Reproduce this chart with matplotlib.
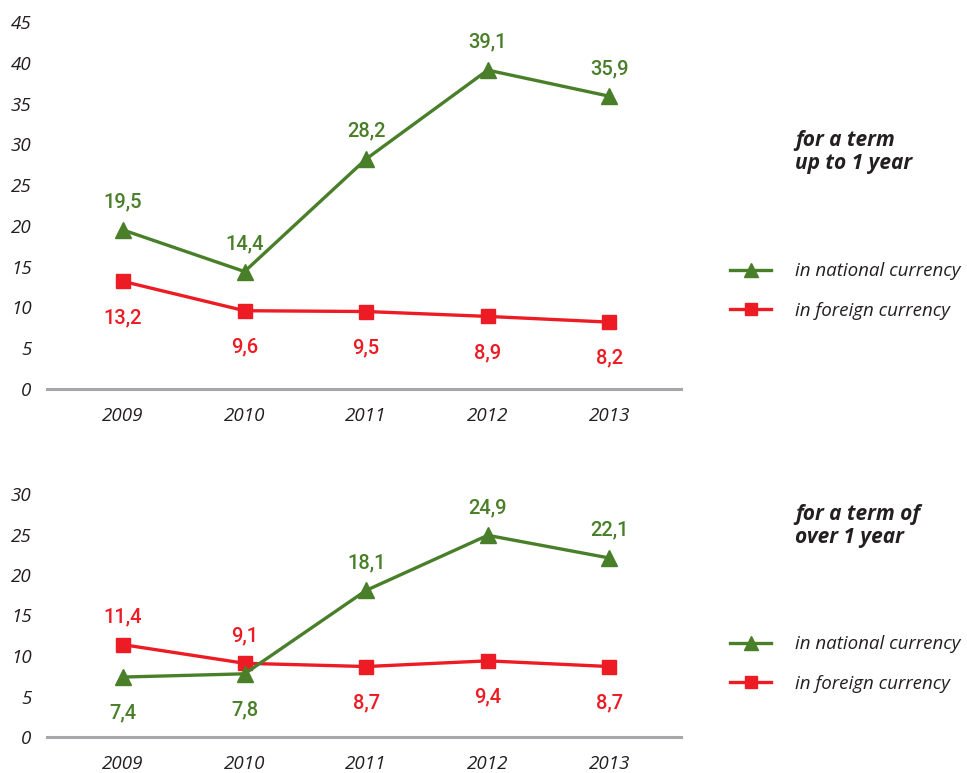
import matplotlib
matplotlib.use("Agg")
import matplotlib.pyplot as plt
from matplotlib.lines import Line2D

# ---- data ----
years = [2009, 2010, 2011, 2012, 2013]
short_national = [19.5, 14.4, 28.2, 39.1, 35.9]
short_foreign = [13.2, 9.6, 9.5, 8.9, 8.2]
long_national = [7.4, 7.8, 18.1, 24.9, 22.1]
long_foreign = [11.4, 9.1, 8.7, 9.4, 8.7]
# label placement: +1 above marker, -1 below
short_national_pos = [1, 1, 1, 1, 1]
short_foreign_pos = [-1, -1, -1, -1, -1]
long_national_pos = [-1, -1, 1, 1, 1]
long_foreign_pos = [1, 1, -1, -1, -1]
short_yticks = [0, 5, 10, 15, 20, 25, 30, 35, 40, 45]
long_yticks = [0, 5, 10, 15, 20, 25, 30]
titles = ["for a term\nup to 1 year", "for a term of\nover 1 year"]
legend_labels = ["in national currency", "in foreign currency"]

GREEN = "#4a7f2a"
RED = "#ed1c24"
TXT = "#231f20"
AXC = "#a7a7aa"

W, H = 967, 773
fig = plt.figure(figsize=(W / 100, H / 100), dpi=100)


def fx(px):
    return px / W


def fy(py):
    return 1 - py / H


def make_axes(top_px, bottom_px):
    left, right = 47, 681
    return fig.add_axes([fx(left), fy(bottom_px), fx(right) - fx(left), fy(top_px) - fy(bottom_px)])


def draw_panel(ax, nat, forg, nat_pos, forg_pos, yticks, title, title_y, leg_y):
    ax.plot(years, forg, color=RED, lw=2.4, marker="s", ms=10, zorder=3, clip_on=False)
    ax.plot(years, nat, color=GREEN, lw=2.4, marker="^", ms=11, zorder=4, clip_on=False)
    ax.set_xlim(2008.375, 2013.59)
    ax.set_ylim(0, yticks[-1])
    ax.set_yticks(yticks)
    ax.set_yticklabels([str(t) for t in yticks])
    ax.set_xticks(years)
    ax.set_xticklabels([str(y) for y in years])
    for s in ["top", "right", "left"]:
        ax.spines[s].set_visible(False)
    ax.spines["bottom"].set_color(AXC)
    ax.spines["bottom"].set_linewidth(2.2)
    ax.tick_params(axis="y", length=0, pad=11, labelsize=13.5, labelcolor=TXT)
    ax.tick_params(axis="x", length=0, pad=13, labelsize=13.5, labelcolor=TXT)
    for lab in ax.get_yticklabels() + ax.get_xticklabels():
        lab.set_fontstyle("italic")
        lab.set_family("Open Sans")
    ax.patch.set_alpha(0)

    for series, pos, col in ((nat, nat_pos, GREEN), (forg, forg_pos, RED)):
        for x, v, p in zip(years, series, pos):
            off = 20 if p > 0 else -26
            ax.annotate(f"{v:.1f}".replace(".", ","), (x, v), xytext=(0, off),
                        textcoords="offset points", ha="center", va="center",
                        color=col, fontsize=14.5, family="Roboto", fontweight="medium")

    fig.text(fx(795), fy(title_y), title, ha="left", va="center", fontsize=15,
             fontweight="bold", fontstyle="italic", family="Open Sans", color=TXT,
             linespacing=1.15)

    handles = [Line2D([], [], color=GREEN, lw=2.4, marker="^", ms=10),
               Line2D([], [], color=RED, lw=2.4, marker="s", ms=9)]
    leg = ax.legend(handles, legend_labels, loc="center left",
                    bbox_to_anchor=(fx(730), fy(leg_y)), bbox_transform=fig.transFigure,
                    frameon=False, handlelength=2.2, handletextpad=1.25,
                    labelspacing=1.14, borderpad=0, borderaxespad=0,
                    prop={"family": "Open Sans", "style": "italic", "size": 13.5})
    for t in leg.get_texts():
        t.set_color(TXT)


ax1 = make_axes(22, 389)
draw_panel(ax1, short_national, short_foreign, short_national_pos, short_foreign_pos,
           short_yticks, titles[0], 152, 291)

ax2 = make_axes(494, 737)
draw_panel(ax2, long_national, long_foreign, long_national_pos, long_foreign_pos,
           long_yticks, titles[1], 526, 664)

fig.savefig("out.png", dpi=100, facecolor="white")
